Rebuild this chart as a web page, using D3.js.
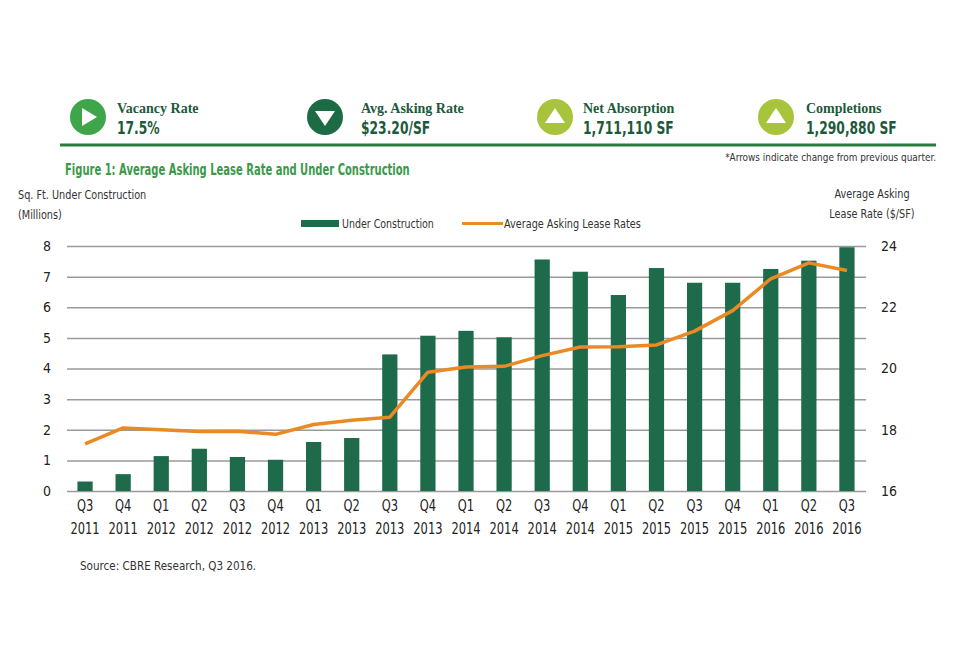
<!DOCTYPE html>
<html>
<head>
<meta charset="utf-8">
<script src="https://cdn.jsdelivr.net/npm/d3@7"></script>
<style>
  body { margin: 0; background: #fff; }
  svg text { font-family: "Liberation Sans Narrow", "DejaVu Sans Condensed", "Roboto Condensed", sans-serif; }
</style>
</head>
<body>
<script>
// data
const quarters = ["Q3","Q4","Q1","Q2","Q3","Q4","Q1","Q2","Q3","Q4","Q1","Q2","Q3","Q4","Q1","Q2","Q3","Q4","Q1","Q2","Q3"];
const years = ["2011","2011","2012","2012","2012","2012","2013","2013","2013","2013","2014","2014","2014","2014","2015","2015","2015","2015","2016","2016","2016"];
const underConstruction = [0.31,0.55,1.14,1.38,1.11,1.02,1.6,1.73,4.46,5.07,5.23,5.02,7.56,7.16,6.4,7.28,6.8,6.8,7.25,7.52,7.96];
const askingRate = [17.54,18.06,18.0,17.94,17.95,17.85,18.17,18.31,18.41,19.88,20.05,20.07,20.42,20.7,20.71,20.77,21.22,21.89,22.93,23.45,23.2];
const leftTicks = [0,1,2,3,4,5,6,7,8];
const rightTicks = [16,18,20,22,24];

// header stats
const statLabels = ["Vacancy Rate","Avg. Asking Rate","Net Absorption","Completions"];
const statValues = ["17.5%","$23.20/SF","1,711,110 SF","1,290,880 SF"];
const statArrows = ["right","down","up","up"];
// data

const W = 960, H = 655;
const plotLeft = 67, plotRight = 866, plotTop = 246, plotBottom = 491;

const svg = d3.select("body").append("svg")
  .attr("width", W)
  .attr("height", H);

// condensed text: squeeze horizontally around the anchor point
function label(x, y, str, size, sx, opts = {}) {
  const t = svg.append("text")
    .attr("transform", `translate(${x},${y}) scale(${sx},1)`)
    .attr("font-size", size)
    .attr("fill", opts.fill || "#333")
    .attr("text-anchor", opts.anchor || "start")
    .text(str);
  if (opts.bold) t.attr("font-weight", "bold");
  if (opts.family) t.style("font-family", opts.family);
  return t;
}

// header
const iconX = [88, 325, 555, 776];
const iconColor = ["#3fa54a", "#1d6b45", "#a8c43c", "#a8c43c"];
const labelX = [117, 361, 583, 806];

statLabels.forEach((lab, i) => {
  const cx = iconX[i], cy = 117, r = 18;
  svg.append("circle").attr("cx", cx).attr("cy", cy).attr("r", r).attr("fill", iconColor[i]);
  let pts;
  if (statArrows[i] == "right") pts = [[cx-6,cy-9],[cx-6,cy+9],[cx+9,cy]];
  else if (statArrows[i] == "down") pts = [[cx-10,cy-6],[cx+10,cy-6],[cx,cy+9]];
  else pts = [[cx-10,cy+6],[cx+10,cy+6],[cx,cy-9]];
  svg.append("polygon").attr("points", pts.map(p => p.join(",")).join(" ")).attr("fill", "#fff");
  label(labelX[i], 113, lab, 14, 1, { bold: true, fill: "#1d5a3c", family: "'Liberation Serif', 'DejaVu Serif', serif" });
  label(labelX[i], 134, statValues[i], 18, 0.76, { bold: true, fill: "#1d5a3c" });
});

svg.append("line").attr("x1", 60).attr("x2", 936).attr("y1", 145).attr("y2", 145)
  .attr("stroke", "#2a7d3e").attr("stroke-width", 3);

label(936, 161, "*Arrows indicate change from previous quarter.", 11, 0.9, { anchor: "end" });

label(65, 175, "Figure 1: Average Asking Lease Rate and Under Construction", 15, 0.74, { bold: true, fill: "#3a9a4a" });

// axis titles
label(18, 199, "Sq. Ft. Under Construction", 13, 0.83);
label(18, 219, "(Millions)", 13, 0.83);
label(872, 198, "Average Asking", 13, 0.83, { anchor: "middle" });
label(872, 218, "Lease Rate ($/SF)", 13, 0.83, { anchor: "middle" });

// legend
svg.append("rect").attr("x", 301).attr("y", 220).attr("width", 38).attr("height", 7).attr("fill", "#1d6b4a");
label(342, 228, "Under Construction", 13, 0.81);
svg.append("line").attr("x1", 462).attr("x2", 503).attr("y1", 223.5).attr("y2", 223.5)
  .attr("stroke", "#ea8a24").attr("stroke-width", 3);
label(504, 228, "Average Asking Lease Rates", 13, 0.83);

// scales
const idx = d3.range(quarters.length);
const x = d3.scaleBand().domain(idx).range([plotLeft - 1, plotRight]).paddingInner(0.6).paddingOuter(0.3);
const y = d3.scaleLinear().domain([0, 8]).range([plotBottom, plotTop]);
const y2 = d3.scaleLinear().domain([16, 24]).range([plotBottom, plotTop]);

// gridlines
svg.append("g")
  .attr("transform", `translate(${plotLeft},0)`)
  .call(d3.axisLeft(y).tickValues(leftTicks).tickSize(-(plotRight - plotLeft)).tickFormat(d3.format("d")).tickPadding(16))
  .call(g => g.select(".domain").remove())
  .call(g => g.selectAll(".tick line").attr("stroke", "#9a9a9a").attr("stroke-width", 1.5))
  .call(g => g.selectAll(".tick text").attr("font-size", 14).attr("fill", "#222"));

svg.append("g")
  .attr("transform", `translate(${plotRight},0)`)
  .call(d3.axisRight(y2).tickValues(rightTicks).tickSize(0).tickPadding(15))
  .call(g => g.select(".domain").remove())
  .call(g => g.selectAll(".tick text").attr("font-size", 14).attr("fill", "#222"));

// bars
svg.selectAll(".bar")
  .data(underConstruction)
  .enter().append("rect")
  .attr("class", "bar")
  .attr("x", (d, i) => x(i))
  .attr("width", x.bandwidth())
  .attr("y", d => y(d))
  .attr("height", d => plotBottom - y(d))
  .attr("fill", "#1d6b4a");

// line
const line = d3.line()
  .x((d, i) => x(i) + x.bandwidth() / 2)
  .y(d => y2(d));
svg.append("path")
  .datum(askingRate)
  .attr("d", line)
  .attr("fill", "none")
  .attr("stroke", "#ea8a24")
  .attr("stroke-width", 3.5)
  .attr("stroke-linejoin", "round");

// x labels
idx.forEach(i => {
  const cx = x(i) + x.bandwidth() / 2;
  label(cx, 511, quarters[i], 15, 0.85, { anchor: "middle", fill: "#222" });
  label(cx, 534, years[i], 15, 0.85, { anchor: "middle", fill: "#222" });
});

label(80, 570, "Source: CBRE Research, Q3 2016.", 13, 0.89);
</script>
</body>
</html>
